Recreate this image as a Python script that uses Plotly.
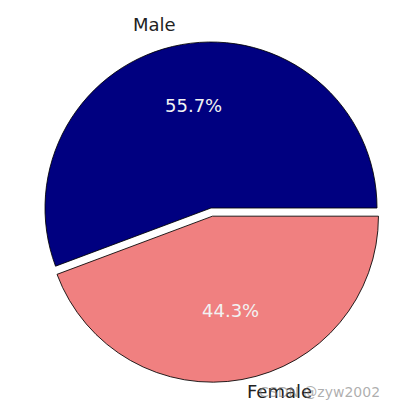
import math
import plotly.graph_objects as go

labels = ["Male", "Female"]
values = [55.7, 44.3]
colors = ["#000080", "#F08080"]
explode = [0.0, 0.05]

W, H = 396, 411
CX, CY, R = 211, 208, 166  # pie centre / radius in pixels
TEXT_DY = -4  # visual vertical centring offset of text

max_pull = max(explode)
box = 2 * R * (1 + max_pull)
total = sum(values)

# Plotly counterclockwise: first slice ends at `rotation` (clockwise from 12 o'clock).
rot = 90 - values[0] / total * 360

fig = go.Figure(go.Pie(
    labels=labels, values=values, sort=False,
    direction="counterclockwise", rotation=rot,
    marker=dict(colors=colors, line=dict(color="rgba(0,0,0,0.85)", width=1)),
    pull=explode, textinfo="none", hoverinfo="label+percent",
    showlegend=False,
    domain=dict(x=[(CX - box / 2) / W, (CX + box / 2) / W],
                y=[1 - (CY + box / 2) / H, 1 - (CY - box / 2) / H]),
))

start = 0.0
annotations = []
for lab, v, ex in zip(labels, values, explode):
    span = v / total * 360
    mid = math.radians(start + span / 2)
    start += span
    c, s = math.cos(mid), math.sin(mid)
    lx = CX + (1.1 + ex) * R * c
    ly = CY - (1.1 + ex) * R * s + TEXT_DY
    annotations.append(dict(
        x=lx / W, y=1 - ly / H, xref="paper", yref="paper",
        text=lab, showarrow=False,
        xanchor="right" if c < 0 else "left", yanchor="middle",
        font=dict(family="DejaVu Sans", size=18, color="#222222"),
    ))
    px = CX + (0.6 + ex) * R * c
    py = CY - (0.6 + ex) * R * s + TEXT_DY
    annotations.append(dict(
        x=px / W, y=1 - py / H, xref="paper", yref="paper",
        text=f"{v / total * 100:.1f}%", showarrow=False,
        xanchor="center", yanchor="middle",
        font=dict(family="DejaVu Sans", size=18, color="#F2F2F2"),
    ))

annotations.append(dict(
    x=382 / W, y=1 - 392 / H, xref="paper", yref="paper",
    text="CSDN @zyw2002", showarrow=False,
    xanchor="right", yanchor="middle",
    font=dict(family="DejaVu Sans", size=14, color="rgba(120,120,120,0.6)"),
))

fig.update_layout(
    width=W, height=H, margin=dict(l=0, r=0, t=0, b=0),
    paper_bgcolor="white", plot_bgcolor="white",
    annotations=annotations,
)

fig.write_html("out.html")
